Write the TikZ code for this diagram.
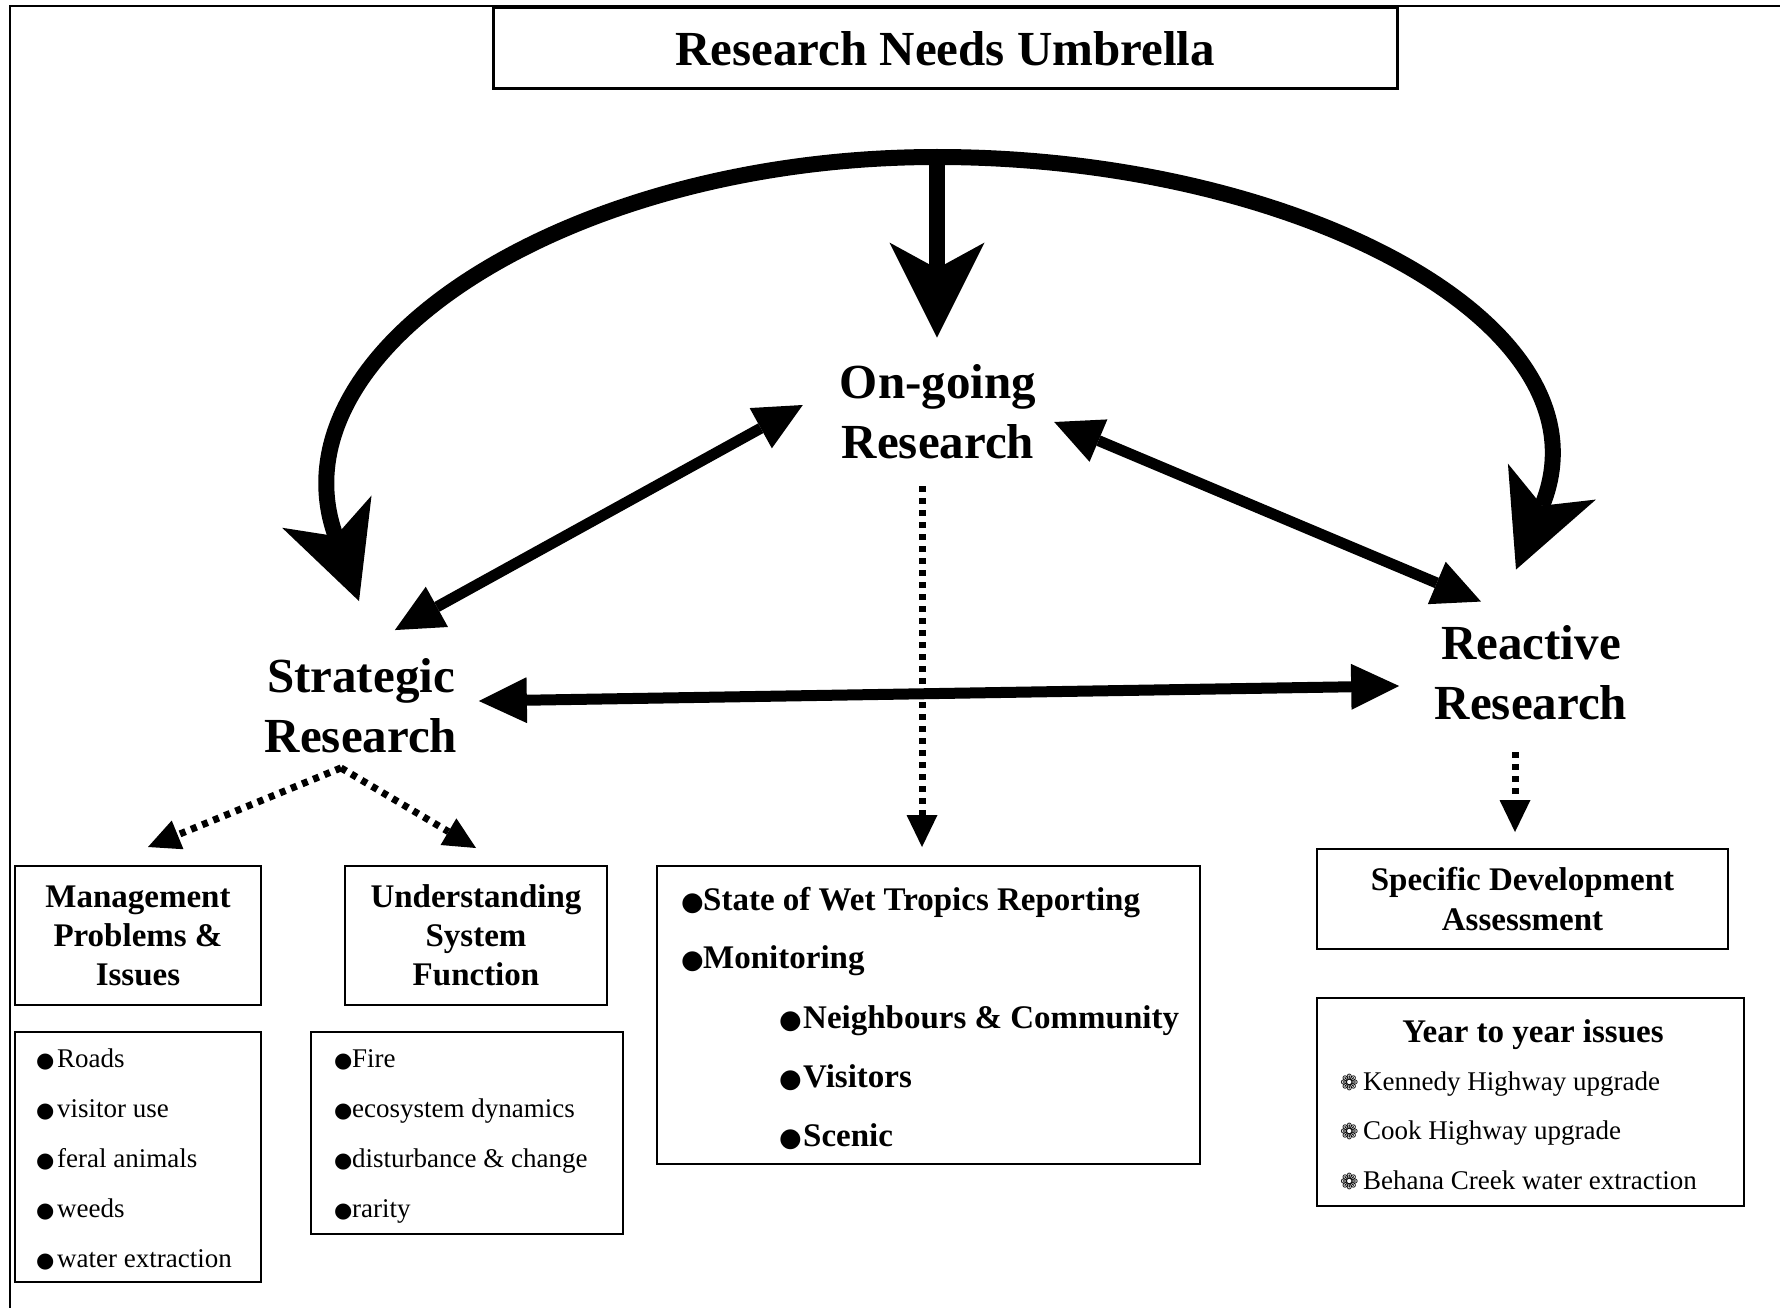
\documentclass[tikz,border=0pt]{standalone}
\usepackage{fontspec}
\setmainfont{Liberation Serif}
\newfontfamily\symfont{DejaVu Sans}
\usetikzlibrary{arrows.meta}

\newcommand{\listdot}[1][21pt]{\makebox[#1][l]{\symfont\fontsize{21}{21}\selectfont ●}}
\newcommand{\headdot}[1][22pt]{\makebox[#1][l]{\symfont\fontsize{26}{26}\selectfont ●}}
\newcommand{\flowerdot}{\makebox[23pt][l]{\symfont\fontsize{22}{22}\selectfont ❁}}

\begin{document}
\begin{tikzpicture}[x=1pt, y=-1pt,
    main node/.style={font=\bfseries\fontsize{49}{60}\selectfont, align=center, inner sep=0pt},
    box node/.style={draw, line width=2pt, inner sep=0pt},
    head node/.style={box node, font=\bfseries\fontsize{33}{39}\selectfont, align=center},
    item node/.style={anchor=base west, inner sep=0pt, font=\fontsize{27}{27}\selectfont},
    bold item/.style={item node, font=\bfseries\fontsize{33}{33}\selectfont},
    big arrow/.style={line width=16pt, -{Stealth[length=95pt, width=95pt, inset=26pt, line width=0pt]}},
    both way/.style={line width=11pt, {Triangle[length=48pt, width=46pt, line width=0pt]}-{Triangle[length=48pt, width=46pt, line width=0pt]}},
    dot arrow/.style={line width=7pt, dash pattern=on 6pt off 6pt, -{Triangle[length=32pt, width=31pt, line width=0pt]}}]
  \useasboundingbox (0,0) rectangle (1780,1308);
  \draw[line width=2pt] (1780,6) -- (10,6) -- (10,1308);

  % title
  \node[box node, line width=3pt, minimum width=904pt, minimum height=81pt,
        font=\bfseries\fontsize{49}{60}\selectfont] (title) at (945,48.5) {Research Needs Umbrella};

  % the three kinds of research
  \node[main node] (ongo) at (938,412) {On-going\\Research};
  \node[main node] (strat) at (361,705.5) {Strategic\\Research};
  \node[main node] (react) at (1531,673) {Reactive\\Research};

  % boxes
  \node[head node, minimum width=246pt, minimum height=139pt] (mgmt) at (138,935.5) {Management\\Problems \&\\Issues};
  \node[head node, minimum width=262pt, minimum height=139pt] (under) at (476,935.5) {Understanding\\System\\Function};
  \node[box node, minimum width=543pt, minimum height=298pt] (monlist) at (928.5,1015) {};
  \node[head node, font=\bfseries\fontsize{33}{40}\selectfont, minimum width=411pt, minimum height=100pt] (spec) at (1522.5,899) {Specific Development\\Assessment};
  \node[box node, minimum width=427pt, minimum height=208pt] (yearlist) at (1530.5,1102) {};
  \node[box node, minimum width=246pt, minimum height=250pt] (roadlist) at (138,1157) {};
  \node[box node, minimum width=312pt, minimum height=202pt] (firelist) at (467,1133) {};

  % lists
  \foreach \txt [count=\i from 0] in {Roads, visitor use, feral animals, weeds, water extraction}
    \node[item node] (road\i) at (36,{1067+50*\i}) {\listdot\txt};
  \foreach \txt [count=\i from 0] in {Fire, ecosystem dynamics, disturbance \& change, rarity}
    \node[item node] (fire\i) at (334,{1067+50*\i}) {\listdot[18pt]\txt};

  \node[bold item] (mon1) at (681,910) {\headdot State of Wet Tropics Reporting};
  \node[bold item] (mon2) at (681,968) {\headdot Monitoring};
  \node[bold item] (mon3) at (779,1028) {\headdot[24pt]Neighbours \& Community};
  \node[bold item] (mon4) at (779,1087) {\headdot[24pt]Visitors};
  \node[bold item] (mon5) at (779,1146) {\headdot[24pt]Scenic};

  \node[bold item, anchor=base] (yeartitle) at (1533,1042) {Year to year issues};
  \foreach \txt [count=\i from 0] in {Kennedy Highway upgrade, Cook Highway upgrade, Behana Creek water extraction}
    \node[item node] (yr\i) at (1340,{1090+49.5*\i}) {\flowerdot\txt};

  % umbrella arc
  \coordinate (top) at (937,157);
  \draw[big arrow] (top) .. controls +(-370,0) and +(-90,-250) .. ([shift={(-2,-57)}]strat.north);
  \draw[big arrow] (top) .. controls +(360,0) and +(100,-245) .. ([shift={(-15,-56)}]react.north);
  \draw[big arrow] (top) -- ([shift={(-1,-27)}]ongo.north);

  % links between research kinds
  \draw[both way] ([shift={(-62.5,-28)}]strat.north east) -- ([shift={(-37,-7)}]ongo.west);
  \draw[both way] ([shift={(18,10)}]ongo.east) -- ([shift={(-50,-24)}]react.north);
  \draw[both way] ([shift={(21.5,-4.5)}]strat.east) -- ([shift={(-35.5,13)}]react.west);

  % dotted links to boxes
  \draw[dot arrow] ([shift={(-16,27)}]ongo.south) -- ([shift={(-6.5,-18)}]monlist.north);
  \draw[dot arrow] ([shift={(-16,32)}]react.south) -- ([shift={(-7.5,-16)}]spec.north);
  \coordinate (fork) at ([shift={(-20,15)}]strat.south);
  \draw[dot arrow] (fork) -- ([shift={(10,-18)}]mgmt.north);
  \draw[dot arrow] (fork) -- ([shift={(0,-17)}]under.north);
\end{tikzpicture}
\end{document}
